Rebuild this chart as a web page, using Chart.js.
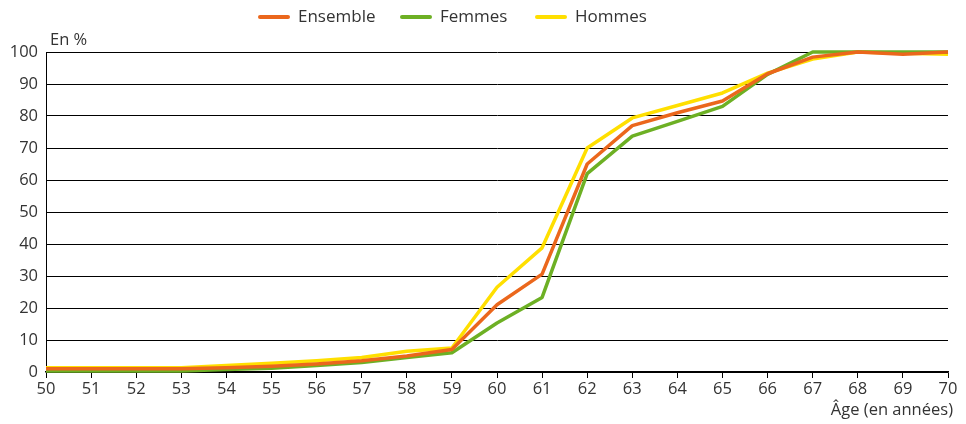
<!DOCTYPE html>
<html>
<head>
<meta charset="utf-8">
<script src="https://cdn.jsdelivr.net/npm/chart.js@4"></script>
<style>
  html, body { margin: 0; padding: 0; background: #fff; }
  #wrap { width: 966px; height: 424px; }
</style>
</head>
<body>
<div id="wrap"><canvas id="chart" width="966" height="424"></canvas></div>
<script>
// Ages (x axis)
var ages = ['50', '51', '52', '53', '54', '55', '56', '57', '58', '59', '60',
            '61', '62', '63', '64', '65', '66', '67', '68', '69', '70'];

// Series, in %
var ensemble = [1, 1, 1, 1, 1.3, 1.8, 2.5, 3.5, 5, 7, 21, 30.6, 65, 77, 81, 84.7, 93.2, 98.4, 100, 99.3, 100];
var femmes = [0.3, 0.3, 0.3, 0.3, 0.8, 1.2, 2, 3, 4.5, 6, 15.3, 23.3, 62, 73.7, 78.3, 83, 93, 100, 100, 100, 100];
var hommes = [1.3, 1.3, 1.3, 1.3, 2, 2.7, 3.5, 4.5, 6.5, 7.5, 26.5, 38.8, 70, 79.4, 83.3, 87.2, 93.4, 97.8, 100, 99.6, 99.3];

var yTicks = [0, 10, 20, 30, 40, 50, 60, 70, 80, 90, 100];

var colEnsemble = '#EB671C';
var colFemmes = '#6DB024';
var colHommes = '#FFDF00';
var FONT = '"Open Sans", "Noto Sans", sans-serif';
var TEXT = '#333333';

// legend and axis captions drawn by hand
var extras = {
    id: 'extras',
    afterDraw: function(chart) {
        var ctx = chart.ctx;
        ctx.save();
        ctx.font = '16.5px ' + FONT;
        ctx.fillStyle = TEXT;
        ctx.textBaseline = 'middle';
        ctx.textAlign = 'left';
        ctx.fillText('En %', 50, 40);
        ctx.textAlign = 'right';
        ctx.fillText('Âge (en années)', 953, 410);

        var items = [
            {text: 'Ensemble', color: colEnsemble, x: 258},
            {text: 'Femmes', color: colFemmes, x: 400},
            {text: 'Hommes', color: colHommes, x: 535}
        ];
        ctx.font = '17px ' + FONT;
        ctx.textAlign = 'left';
        ctx.lineCap = 'round';
        ctx.lineWidth = 4;
        items.forEach(function(it) {
            ctx.strokeStyle = it.color;
            ctx.beginPath();
            ctx.moveTo(it.x + 2, 17);
            ctx.lineTo(it.x + 30, 17);
            ctx.stroke();
            ctx.fillText(it.text, it.x + 40, 17);
        });
        ctx.restore();
    }
};

new Chart(document.getElementById('chart').getContext('2d'), {
    type: 'line',
    data: {
        labels: ages,
        datasets: [
            {label: 'Ensemble', data: ensemble, borderColor: colEnsemble, backgroundColor: colEnsemble},
            {label: 'Femmes', data: femmes, borderColor: colFemmes, backgroundColor: colFemmes},
            {label: 'Hommes', data: hommes, borderColor: colHommes, backgroundColor: colHommes}
        ]
    },
    options: {
        responsive: false,
        animation: false,
        layout: {padding: {top: 52, right: 18, left: 0, bottom: 0}},
        datasets: {line: {clip: false}},
        elements: {
            line: {borderWidth: 3.5, tension: 0, borderJoinStyle: 'round', borderCapStyle: 'butt'},
            point: {radius: 0}
        },
        plugins: {
            legend: {display: false},
            tooltip: {enabled: false}
        },
        scales: {
            x: {
                offset: false,
                afterFit: function(scale) { scale.height = 52; },
                grid: {drawOnChartArea: false, tickLength: 6, color: '#000', lineWidth: 1},
                border: {color: '#000', width: 1.5},
                ticks: {font: {family: FONT, size: 16.5}, color: TEXT, padding: 1, maxRotation: 0, autoSkip: false}
            },
            y: {
                min: 0,
                max: 100,
                afterFit: function(scale) { scale.width = 46; },
                afterBuildTicks: function(scale) {
                    scale.ticks = yTicks.map(function(v) { return {value: v}; });
                },
                grid: {color: '#000', lineWidth: 1, drawTicks: false},
                border: {color: '#000', width: 1},
                ticks: {font: {family: FONT, size: 16.5}, color: TEXT, padding: 8}
            }
        }
    },
    plugins: [extras]
});
</script>
</body>
</html>
